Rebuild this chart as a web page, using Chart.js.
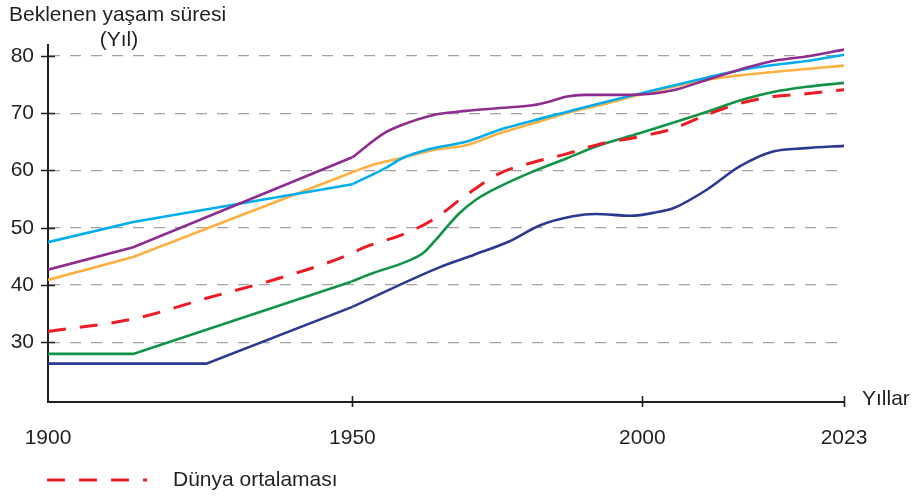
<!DOCTYPE html>
<html>
<head>
<meta charset="utf-8">
<script src="https://cdn.jsdelivr.net/npm/chart.js@4.4.1/dist/chart.umd.min.js"></script>
<style>
    body { margin: 0; background: #ffffff; }
    #lifeChart { display: block; }
</style>
</head>
<body>
<canvas id="lifeChart" width="914" height="497"></canvas>
<script>
// Tick labels
const xTickYears = [1900, 1950, 2000, 2023];
const yTickValues = [30, 40, 50, 60, 70, 80];

// Series values as [year, expected years of life]
const worldAverage = [[1900, 31.9], [1914.5, 34.2], [1926, 37.7], [1937, 40.9], [1948, 44.7], [1952.4, 46.7],
    [1959.3, 49.1], [1963.9, 51.4], [1969.6, 55.7], [1975.4, 59.5], [1981.1, 61.4], [1986.9, 62.9],
    [1992.6, 64.6], [1999.5, 65.9], [2003.5, 67.3], [2007.3, 69.7], [2011.1, 71.7], [2014.9, 72.9],
    [2018.7, 73.4], [2023, 74.1]];
const purpleSeries = [[1900, 42.7], [1914, 46.6], [1950, 62.3], [1955.3, 66.4], [1958.2, 67.8], [1964, 69.7],
    [1969.6, 70.4], [1975.4, 70.9], [1981.1, 71.4], [1984.6, 72.2], [1987, 72.9], [1990, 73.2], [1998, 73.2],
    [2003.5, 74.0], [2007.3, 75.8], [2011.1, 77.6], [2014.9, 79.1], [2018.7, 79.9], [2023, 81.1]];
const cyanSeries = [[1900, 47.5], [1914, 51.0], [1950, 57.6], [1956, 60.6], [1958.5, 62.1], [1964, 63.9],
    [1969.6, 65.0], [1975.4, 67.1], [1981.1, 68.7], [1986.9, 70.2], [1992.6, 71.7], [1999.5, 73.4],
    [2007.3, 76.2], [2011.1, 77.5], [2014.9, 78.4], [2018.7, 79.1], [2023, 80.2]];
const orangeSeries = [[1900, 40.9], [1914, 44.9], [1950, 59.7], [1953.6, 61.0], [1958.5, 62.2], [1964, 63.6],
    [1969.6, 64.4], [1975.4, 66.5], [1981.1, 68.2], [1986.9, 70.0], [1992.6, 71.4], [1999.5, 73.2],
    [2007.3, 75.8], [2011.1, 76.6], [2014.9, 77.2], [2023, 78.3]];
const greenSeries = [[1900, 28.0], [1914, 28.0], [1949.8, 40.6], [1953.6, 42.1], [1959.3, 44.1], [1962.2, 45.6],
    [1964.2, 47.7], [1966, 49.8], [1968.4, 52.5], [1971.3, 54.9], [1975.4, 57.2], [1981.1, 59.8],
    [1986.9, 62.1], [1992.6, 64.4], [1999.5, 66.5], [2007.3, 70.2], [2011.1, 72.2], [2014.9, 73.7],
    [2018.7, 74.6], [2023, 75.3]];
const blueSeries = [[1900, 26.3], [1926, 26.3], [1950, 36.2], [1965, 43.1], [1971, 45.3], [1977, 47.6],
    [1982.3, 50.4], [1988, 52.0], [1992, 52.4], [1998, 52.1], [2001.6, 52.7], [2003.5, 53.4], [2007.3, 56.6],
    [2011.1, 60.7], [2014.9, 63.3], [2018.7, 63.9], [2023, 64.3]];

const inkColor = '#231f20';
const fontFamily = '"Liberation Sans", Arial, Helvetica, sans-serif';

// The year axis of the original is not evenly spaced: each span between labelled years
// gets its own share of the axis width.
const spanShares = [0, 0.3824, 0.7467, 1];

class SegmentedYearScale extends Chart.LinearScale {
    static id = 'segmentedYear';
    static defaults = Chart.LinearScale.defaults;

    yearToDecimal(year) {
        const n = xTickYears.length;
        for (let i = 1; i < n; i++) {
            if (year <= xTickYears[i] || i === n - 1) {
                const t = (year - xTickYears[i - 1]) / (xTickYears[i] - xTickYears[i - 1]);
                return spanShares[i - 1] + t * (spanShares[i] - spanShares[i - 1]);
            }
        }
    }

    getPixelForValue(value) {
        if (value === null || value === undefined || isNaN(value)) return NaN;
        return this.getPixelForDecimal(this.yearToDecimal(value));
    }

    getValueForPixel(pixel) {
        const d = this.getDecimalForPixel(pixel);
        for (let i = 1; i < spanShares.length; i++) {
            if (d <= spanShares[i] || i === spanShares.length - 1) {
                const t = (d - spanShares[i - 1]) / (spanShares[i] - spanShares[i - 1]);
                return xTickYears[i - 1] + t * (xTickYears[i] - xTickYears[i - 1]);
            }
        }
    }
}
Chart.register(SegmentedYearScale);

function toPoints(pairs) {
    return pairs.map(p => ({ x: p[0], y: p[1] }));
}

// The early part of most curves is drawn with straight pieces and sharp corners,
// the later part is smooth, so each series becomes two datasets joined at `straightUntil`.
function seriesSets(label, pairs, color, straightUntil, extra) {
    const base = {
        borderColor: color,
        backgroundColor: color,
        borderWidth: 2.6,
        pointRadius: 0,
        fill: false
    };
    const sets = [];
    if (straightUntil !== null) {
        sets.push(Object.assign({}, base, {
            label: label,
            data: toPoints(pairs.filter(p => p[0] <= straightUntil)),
            tension: 0
        }, extra || {}));
    }
    const from = straightUntil === null ? -Infinity : straightUntil;
    sets.push(Object.assign({}, base, {
        label: label,
        data: toPoints(pairs.filter(p => p[0] >= from)),
        cubicInterpolationMode: 'monotone'
    }, extra || {}));
    return sets;
}

// Axis ticks that cross the axis lines, texts and the key
const decorations = {
    id: 'decorations',
    afterDraw(chart) {
        const { ctx, chartArea, scales } = chart;
        const x = scales.x, y = scales.y;
        ctx.save();
        ctx.strokeStyle = inkColor;
        ctx.lineWidth = 1.6;
        ctx.beginPath();
        yTickValues.forEach(v => {
            const py = Math.round(y.getPixelForValue(v)) + 0.5;
            ctx.moveTo(chartArea.left - 7, py);
            ctx.lineTo(chartArea.left + 7, py);
        });
        xTickYears.slice(1).forEach(v => {
            const px = Math.round(x.getPixelForValue(v)) + 0.5;
            ctx.moveTo(px, chartArea.bottom - 6);
            ctx.lineTo(px, chartArea.bottom + 5);
        });
        ctx.stroke();

        ctx.fillStyle = inkColor;
        ctx.font = '21px ' + fontFamily;
        ctx.textBaseline = 'alphabetic';
        ctx.textAlign = 'left';
        ctx.fillText('Beklenen yaşam süresi', 9, 21);
        ctx.textAlign = 'center';
        ctx.fillText('(Yıl)', 119, 46);
        ctx.textAlign = 'left';
        ctx.fillText('Yıllar', chartArea.right + 18, chartArea.bottom + 3);

        // key for the world average
        const keyY = 480;
        ctx.strokeStyle = '#ed1c24';
        ctx.lineWidth = 3;
        ctx.setLineDash([18, 14]);
        ctx.beginPath();
        ctx.moveTo(47, keyY);
        ctx.lineTo(147, keyY);
        ctx.stroke();
        ctx.setLineDash([]);
        ctx.textBaseline = 'middle';
        ctx.fillText('Dünya ortalaması', 173, keyY);
        ctx.restore();
    }
};

const lifeCtx = document.getElementById('lifeChart').getContext('2d');
const lifeChart = new Chart(lifeCtx, {
    type: 'line',
    data: {
        datasets: [
            ...seriesSets('Dünya ortalaması', worldAverage, '#ed1c24', null, { borderDash: [18, 14], borderWidth: 3 }),
            ...seriesSets('Mor', purpleSeries, '#8e2c90', 1950),
            ...seriesSets('Mavi', cyanSeries, '#00aeef', 1950),
            ...seriesSets('Turuncu', orangeSeries, '#fbb040', 1950),
            ...seriesSets('Yeşil', greenSeries, '#0f9447', 1949.8),
            ...seriesSets('Lacivert', blueSeries, '#2b3990', 1950)
        ]
    },
    options: {
        responsive: false,
        devicePixelRatio: 1,
        animation: false,
        layout: {
            padding: { top: 45, right: 70, left: 0, bottom: 0 }
        },
        plugins: {
            legend: { display: false },
            tooltip: { enabled: false }
        },
        scales: {
            x: {
                type: 'segmentedYear',
                min: 1900,
                max: 2023,
                bounds: 'data',
                afterBuildTicks: (scale) => {
                    scale.ticks = xTickYears.map(v => ({ value: v }));
                },
                afterFit: (scale) => {
                    scale.height = 95;
                },
                grid: { display: false },
                border: { display: true, color: inkColor, width: 2 },
                ticks: {
                    color: inkColor,
                    font: { family: fontFamily, size: 21 },
                    padding: 16,
                    maxRotation: 0,
                    autoSkip: false,
                    callback: (v) => String(v)
                }
            },
            y: {
                type: 'linear',
                min: 19.6,
                max: 81.9,
                bounds: 'data',
                afterBuildTicks: (scale) => {
                    scale.ticks = yTickValues.map(v => ({ value: v }));
                },
                afterFit: (scale) => {
                    scale.width = 48;
                },
                grid: {
                    color: '#a3a3a3',
                    lineWidth: 1.3,
                    drawTicks: false
                },
                border: { display: true, color: inkColor, width: 2, dash: [11, 10] },
                ticks: {
                    color: inkColor,
                    font: { family: fontFamily, size: 21 },
                    padding: 14,
                    callback: (v) => String(v)
                }
            }
        }
    },
    plugins: [decorations]
});
</script>
</body>
</html>
